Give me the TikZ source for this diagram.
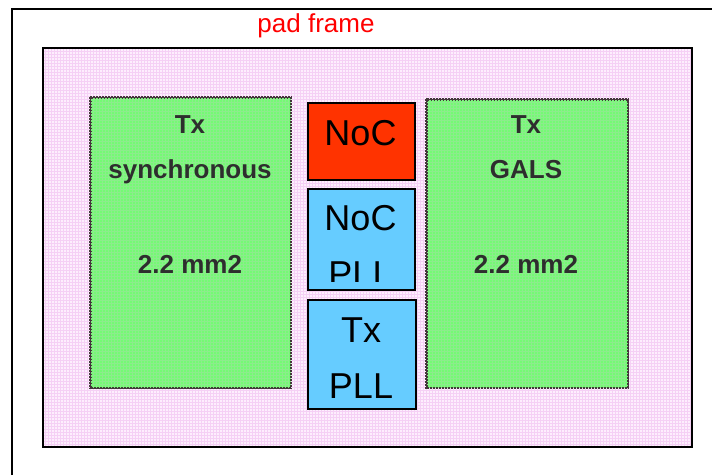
\documentclass[tikz,border=0pt]{standalone}
\usepackage{fontspec}
\setmainfont{Liberation Sans}
\begin{document}
\begin{tikzpicture}[x=1pt,y=-1pt,
  frame/.style={draw=black,line width=2pt},
  greenbox/.style={draw=black!75!magenta!60!black,fill=green!45!white,line width=1.6pt,dash pattern=on 2pt off 1pt,inner sep=0pt,anchor=north west},
  noc/.style={draw=black,line width=1.6pt,inner sep=0pt,anchor=north west},
  lbl/.style={font=\fontsize{26}{30}\selectfont\bfseries,text=black!82,anchor=base,inner sep=0pt},
  big/.style={font=\fontsize{36}{40}\selectfont,text=black,anchor=base,inner sep=0pt}
]
\definecolor{padpink}{HTML}{FDEEFD}
\definecolor{gridpink}{HTML}{F5D0F5}
\definecolor{boxgreen}{HTML}{74FA74}
\definecolor{gridgreen}{HTML}{8CEC8C}
\definecolor{nocred}{HTML}{FF3300}
\definecolor{pllblue}{HTML}{66CCFF}
\useasboundingbox (0,0) rectangle (712,475);
\fill[white] (0,0) rectangle (712,475);
% outer pad frame
\draw[frame] (12,475) -- (12,9) -- (712,9);
\node[text=red,font=\fontsize{26}{30}\selectfont,anchor=base,inner sep=0pt] (padlbl) at (316,32) {pad frame};
% inner area
\fill[padpink] (43,48) rectangle (692,447);
\draw[gridpink,line width=0.3pt,step=3pt] (43,48) grid (692,447);
% green blocks
\node[greenbox,fill=boxgreen,minimum width=200pt,minimum height=290pt] (sync) at (90,97) {};
\node[greenbox,fill=boxgreen,minimum width=201pt,minimum height=288pt] (gals) at (426,99) {};
\begin{scope}
\clip (91,98) rectangle (289,386);
\draw[gridgreen,line width=0.25pt,step=3pt] (43,48) grid (692,447);
\end{scope}
\begin{scope}
\clip (427,100) rectangle (626,386);
\draw[gridgreen,line width=0.25pt,step=3pt] (43,48) grid (692,447);
\end{scope}
\draw[draw=black!75!magenta!60!black,line width=1.6pt,dash pattern=on 2pt off 1pt] (sync.north west) rectangle (sync.south east);
\draw[draw=black!75!magenta!60!black,line width=1.6pt,dash pattern=on 2pt off 1pt] (gals.north west) rectangle (gals.south east);
\draw[frame] (43,48) rectangle (692,447);
% labels in green blocks
\node[lbl] (s1) at (190,133) {Tx};
\node[lbl] (s2) at (190,178) {synchronous};
\node[lbl] (s3) at (190,273) {2.2 mm2};
\node[lbl] (g1) at (526,133) {Tx};
\node[lbl] (g2) at (526,178) {GALS};
\node[lbl] (g3) at (526,273) {2.2 mm2};
% NoC / PLL blocks
\node[noc,fill=nocred,minimum width=107pt,minimum height=77pt] (nocb) at (307,102) {};
\node[noc,fill=pllblue,minimum width=107pt,minimum height=101pt] (nocpll) at (307,188) {};
\node[noc,fill=pllblue,minimum width=108pt,minimum height=109pt] (txpll) at (307,299) {};
\node[big] (n1) at (360.5,145) {NoC};
\node[big] (n2) at (360.5,230) {NoC};
\begin{scope}
\clip (308,189) rectangle (413,281);
\node[big] (n3) at (360.5,286) {PLL};
\end{scope}
\node[big] (t1) at (361,342) {Tx};
\node[big] (t2) at (361,398) {PLL};
\end{tikzpicture}
\end{document}
